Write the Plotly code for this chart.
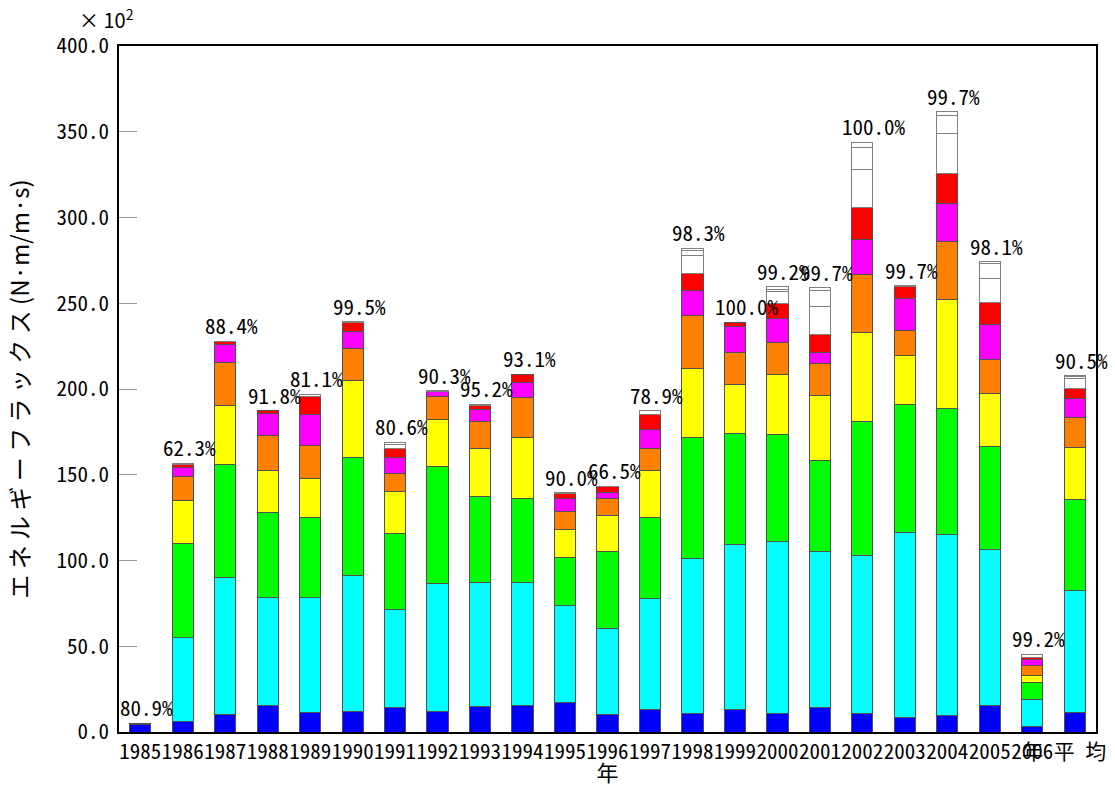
import plotly.graph_objects as go

# Categories (years plus the annual mean)
years = ["1985", "1986", "1987", "1988", "1989", "1990", "1991", "1992",
         "1993", "1994", "1995", "1996", "1997", "1998", "1999", "2000",
         "2001", "2002", "2003", "2004", "2005", "2006", "年平均"]
tick_labels = years[:-1] + ["年 平 均\u00a0\u00a0"]

# Energy flux per discharge class (x10^2 N·m/m·s), stacked bottom to top
class_1 = [4.4, 6.2, 10.3, 15.2, 11.3, 12.2, 14.0, 11.7, 14.6, 15.4, 17.1, 10.3,
           13.4, 11.0, 13.4, 11.0, 14.0, 10.5, 8.2, 9.9, 15.2, 3.5, 11.5]
class_2 = [0.5, 49.0, 79.7, 63.3, 67.2, 79.2, 57.7, 74.8, 72.7, 71.5, 56.4, 50.3,
           64.2, 89.9, 96.2, 99.8, 91.5, 92.7, 108.4, 105.0, 91.5, 15.3, 71.3]
class_3 = [0.1, 54.8, 65.7, 49.6, 46.5, 68.8, 43.9, 68.4, 50.1, 49.4, 28.5, 44.8,
           47.2, 71.1, 64.2, 62.4, 53.1, 77.6, 74.1, 74.0, 59.7, 10.1, 52.5]
class_4 = [0, 24.9, 34.6, 24.5, 22.9, 44.5, 24.9, 27.6, 27.8, 35.5, 16.2, 20.9,
           27.4, 40.0, 29.1, 35.0, 37.9, 51.9, 29.1, 63.0, 31.1, 3.9, 30.7]
class_5 = [0, 14.2, 25.3, 20.2, 18.9, 19.0, 10.4, 13.0, 15.7, 23.4, 10.1, 9.6,
           13.0, 31.1, 18.5, 19.2, 18.1, 34.1, 14.6, 34.4, 19.8, 5.9, 17.5]
class_6 = [0, 5.0, 10.6, 13.0, 18.6, 9.8, 9.3, 2.9, 7.2, 8.7, 7.6, 3.6,
           11.3, 14.6, 15.3, 13.6, 6.6, 20.4, 18.1, 21.9, 20.4, 3.5, 11.1]
class_7 = [0, 1.6, 1.4, 1.6, 10.1, 5.3, 5.2, 0.4, 2.0, 4.8, 2.9, 3.5,
           8.9, 9.8, 2.1, 9.0, 10.3, 18.6, 7.0, 17.5, 12.8, 1.3, 5.8]
class_8 = [0, 0.9, 0.3, 0, 1.4, 0.5, 2.3, 0.2, 0.9, 0, 0.7, 0.4,
           1.8, 10.2, 0, 7.1, 16.5, 22.4, 0.7, 23.0, 14.1, 1.7, 5.8]
class_9 = [0, 0, 0, 0, 0, 0, 1.2, 0, 0, 0, 0, 0,
           0, 2.9, 0, 1.2, 9.7, 12.8, 0, 11.0, 8.3, 0, 1.0]
class_10 = [0, 0, 0, 0, 0, 0, 0, 0, 0, 0, 0, 0,
            0, 1.4, 0, 1.3, 1.3, 2.8, 0, 1.9, 1.3, 0, 0.5]

# Percentage shown above each bar
pct_labels = ["80.9%", "62.3%", "88.4%", "91.8%", "81.1%", "99.5%", "80.6%",
              "90.3%", "95.2%", "93.1%", "90.0%", "66.5%", "78.9%", "98.3%",
              "100.0%", "99.2%", "99.7%", "100.0%", "99.7%", "99.7%", "98.1%",
              "99.2%", "90.5%"]

series = [
    ("流量階級1", class_1, "#0000FF"),
    ("流量階級2", class_2, "#00FFFF"),
    ("流量階級3", class_3, "#00FF00"),
    ("流量階級4", class_4, "#FFFF00"),
    ("流量階級5", class_5, "#FF8000"),
    ("流量階級6", class_6, "#FF00FF"),
    ("流量階級7", class_7, "#FF0000"),
    ("流量階級8", class_8, "#FFFFFF"),
    ("流量階級9", class_9, "#FFFFFF"),
    ("流量階級10", class_10, "#FFFFFF"),
]

MONO = "Noto Sans Mono CJK JP, Liberation Mono, monospace"
SANS = "Noto Sans CJK JP, sans-serif"

pos = list(range(len(years)))

fig = go.Figure()
for name, vals, color in series:
    edge = "#808080" if color == "#FFFFFF" else "#505050"
    fig.add_trace(go.Bar(
        x=pos, y=[v if v > 0 else None for v in vals], name=name,
        marker=dict(color=color, line=dict(color=edge, width=1)),
        width=0.5, customdata=years,
    ))

totals = [sum(s[1][i] for s in series) for i in range(len(years))]

annotations = []
for p, tot, lab in zip(pos, totals, pct_labels):
    annotations.append(dict(
        x=p, y=tot, xref="x", yref="y", text=lab, showarrow=False,
        xanchor="left", yanchor="bottom", xshift=-22, yshift=-1,
        font=dict(family=MONO, size=21, color="#000000"),
    ))

annotations.append(dict(
    x=-0.043, y=1.039, xref="paper", yref="paper",
    text="× 10<sup>2</sup>", showarrow=False, xanchor="left", yanchor="middle",
    font=dict(family=SANS, size=20, color="#000000"),
))

fig.update_layout(
    width=1115, height=787,
    barmode="stack",
    showlegend=False,
    plot_bgcolor="#FFFFFF", paper_bgcolor="#FFFFFF",
    margin=dict(l=119, r=19, t=46, b=55, autoexpand=False),
    annotations=annotations,
)

fig.update_xaxes(
    range=[-0.5, len(years) - 0.5], tickmode="array", tickvals=pos,
    ticktext=tick_labels, tickangle=0, ticklabeloverflow="allow",
    tickfont=dict(family=MONO, size=21, color="#000000"),
    showgrid=False, zeroline=False, ticks="", showline=True,
    linecolor="#000000", linewidth=1.5, mirror=True,
    title=dict(text="年", font=dict(family=SANS, size=22, color="#000000"),
               standoff=9),
    automargin=False,
)

fig.update_yaxes(
    range=[0, 400], dtick=50, tickformat=".1f",
    tickfont=dict(family=MONO, size=21, color="#000000"),
    ticks="inside", ticklen=18, tickcolor="#999999", tickwidth=1,
    ticklabelstandoff=4,
    showgrid=False, zeroline=False, showline=True, linecolor="#000000",
    linewidth=1.5, mirror=True,
    title=dict(text="エ ネ ル ギ ー フ ラ ッ ク ス (N·m/m·s)",
               font=dict(family=SANS, size=24, color="#000000"), standoff=20),
    automargin=False,
)

fig.write_html("out.html")
